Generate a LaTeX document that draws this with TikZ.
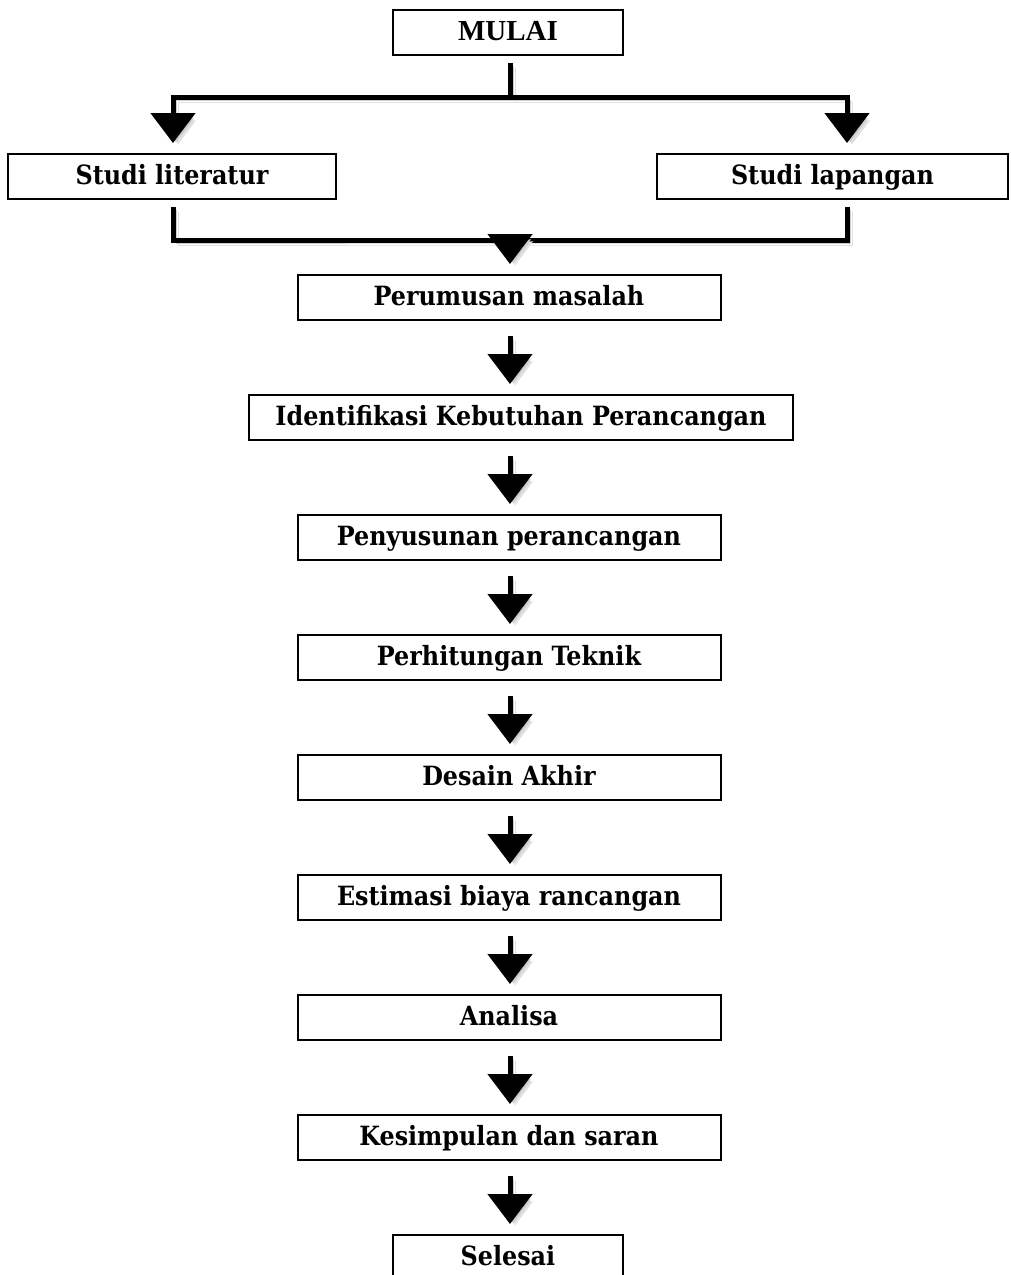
\documentclass[tikz,border=0pt]{standalone}
\usepackage{fontspec}
\newfontfamily\timesb{Liberation Serif}
\newfontfamily\boxfont{DejaVu Serif Condensed}
\usetikzlibrary{arrows.meta}
\begin{document}
\begin{tikzpicture}[x=1pt,y=-1pt,
  box/.style={draw, line width=2pt, minimum height=45pt, inner sep=0pt,
    text height=20pt, text depth=5pt,
    font=\fontsize{26.5}{30}\selectfont\boxfont\bfseries},
  shad/.style={preaction={draw=black!12, transform canvas={shift={(5pt,-5pt)}}},
               preaction={draw=black!20, transform canvas={shift={(3pt,-3pt)}}}},
  conn/.style={line width=5pt, shad},
  arr/.style={conn, -{Triangle[length=30pt,width=44pt]}},
  stepArr/.style={arr, shorten <=15pt, shorten >=10pt},
]
\clip (0,0) rectangle (1011,1275);
\fill[white] (0,0) rectangle (1011,1275);
\node[box, font=\fontsize{29}{32}\selectfont\timesb\bfseries, minimum width=230pt] (mulai) at (508,32.5) {MULAI};
\node[box, minimum width=328pt] (lit) at (172,176.5) {Studi literatur};
\node[box, minimum width=351pt] (lap) at (832.5,176.5) {Studi lapangan};
\node[box, minimum width=423pt] (rum) at (509,297.5) {Perumusan masalah};
\node[box, minimum width=544pt] (ide) at (521,417.5) {Identifikasi Kebutuhan Perancangan};
\node[box, minimum width=423pt] (sus) at (509,537.5) {Penyusunan perancangan};
\node[box, minimum width=423pt] (hit) at (509,657.5) {Perhitungan Teknik};
\node[box, minimum width=423pt] (des) at (509,777.5) {Desain Akhir};
\node[box, minimum width=423pt] (est) at (509,897.5) {Estimasi biaya rancangan};
\node[box, minimum width=423pt] (ana) at (509,1017.5) {Analisa};
\node[box, minimum width=423pt] (kes) at (509,1137.5) {Kesimpulan dan saran};
\node[box, minimum width=230pt] (sel) at (508,1257.5) {Selesai};

\coordinate (split) at (510,97);
\coordinate (merge) at (510,240);
\draw[conn] ([yshift=-7pt]split |- mulai.south) -- (split);
\draw[arr, shorten >=10pt] (split) -| ([xshift=1pt]lit.north);
\draw[arr, shorten >=10pt] (split) -| ([xshift=14.5pt]lap.north);
\draw[conn] ([xshift=1pt,yshift=-7pt]lit.south) |- (merge) -| ([xshift=14.5pt,yshift=-7pt]lap.south);
\draw[arr, shorten >=10pt] ([yshift=2.5pt]merge) -- (rum.north -| merge);

\foreach \a/\b in {rum/ide, ide/sus, sus/hit, hit/des, des/est, est/ana, ana/kes, kes/sel}
  \draw[stepArr] (\a.south -| merge) -- (\b.north -| merge);
\end{tikzpicture}
\end{document}
